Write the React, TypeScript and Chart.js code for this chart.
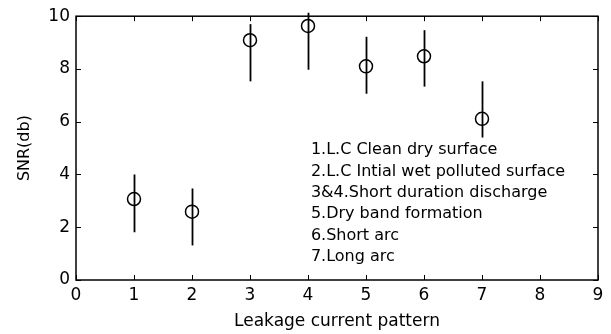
import React, { useEffect, useRef } from "react";
import { Chart, registerables } from "chart.js";

Chart.register(...registerables);

const patterns = [1, 2, 3, 4, 5, 6, 7];
const snrMean = [3.07, 2.59, 9.09, 9.63, 8.1, 8.48, 6.11];
const snrHigh = [4.0, 3.47, 9.7, 10.13, 9.22, 9.47, 7.53];
const snrLow = [1.81, 1.31, 7.53, 7.97, 7.06, 7.33, 5.4];
const xTicks = [0, 1, 2, 3, 4, 5, 6, 7, 8, 9];
const yTicks = [0, 2, 4, 6, 8, 10];
const notes = [
  "1.L.C Clean dry surface",
  "2.L.C Intial wet polluted surface",
  "3&4.Short duration discharge",
  "5.Dry band formation",
  "6.Short arc",
  "7.Long arc",
];

const FONT = "'DejaVu Sans', sans-serif";

const decor = {
  id: "decor",
  beforeDatasetsDraw(chart: any) {
    const { ctx, scales } = chart;
    const x = scales.x;
    const y = scales.y;
    ctx.save();
    ctx.strokeStyle = "#000";
    ctx.lineWidth = 1.8;
    patterns.forEach((p, i) => {
      const px = Math.round(x.getPixelForValue(p)) + 0.5;
      ctx.beginPath();
      ctx.moveTo(px, y.getPixelForValue(snrLow[i]));
      ctx.lineTo(px, y.getPixelForValue(snrHigh[i]));
      ctx.stroke();
    });
    ctx.restore();
  },
  afterDraw(chart: any) {
    const { ctx, chartArea: a, scales } = chart;
    const x = scales.x;
    const y = scales.y;
    ctx.save();
    ctx.strokeStyle = "#000";
    ctx.lineWidth = 1.5;
    ctx.strokeRect(a.left, a.top, a.right - a.left, a.bottom - a.top);
    ctx.lineWidth = 1;
    const tl = 5;
    xTicks.forEach((v) => {
      const px = Math.round(x.getPixelForValue(v)) + 0.5;
      ctx.beginPath();
      ctx.moveTo(px, a.bottom);
      ctx.lineTo(px, a.bottom - tl);
      ctx.moveTo(px, a.top);
      ctx.lineTo(px, a.top + tl);
      ctx.stroke();
    });
    yTicks.forEach((v) => {
      const py = Math.round(y.getPixelForValue(v)) + 0.5;
      ctx.beginPath();
      ctx.moveTo(a.left, py);
      ctx.lineTo(a.left + tl, py);
      ctx.moveTo(a.right, py);
      ctx.lineTo(a.right - tl, py);
      ctx.stroke();
    });
    ctx.fillStyle = "#000";
    ctx.font = `16px ${FONT}`;
    ctx.textBaseline = "middle";
    ctx.textAlign = "left";
    const nx = x.getPixelForValue(4.05);
    notes.forEach((t, i) => {
      ctx.fillText(t, nx, y.getPixelForValue(4.92 - i * 0.81));
    });
    ctx.restore();
  },
};

export default function App() {
  const ref = useRef<HTMLCanvasElement>(null);
  useEffect(() => {
    document.body.style.margin = "0";
    const chart = new Chart(ref.current!, {
      type: "scatter",
      data: {
        datasets: [
          {
            data: patterns.map((p, i) => ({ x: p, y: snrMean[i] })),
            pointStyle: "circle",
            pointRadius: 6.5,
            pointBorderWidth: 1.5,
            pointBorderColor: "#000",
            pointBackgroundColor: "rgba(0,0,0,0)",
            showLine: false,
          },
        ],
      },
      options: {
        animation: false,
        responsive: false,
        events: [],
        layout: { padding: { top: 15, right: 13, left: 0, bottom: 0 } },
        plugins: { legend: { display: false }, tooltip: { enabled: false } },
        scales: {
          x: {
            type: "linear",
            min: 0,
            max: 9,
            afterFit: (s: any) => {
              s.height = 54;
            },
            afterBuildTicks: (s: any) => {
              s.ticks = xTicks.map((v) => ({ value: v }));
            },
            grid: { display: false, drawTicks: false },
            border: { display: false },
            ticks: {
              color: "#000",
              font: { family: FONT, size: 17 },
              padding: 5,
              maxRotation: 0,
            },
            title: {
              display: true,
              text: "Leakage current pattern",
              color: "#000",
              font: { family: FONT, size: 17 },
              padding: { top: 2, bottom: 2 },
            },
          },
          y: {
            type: "linear",
            min: 0,
            max: 10,
            afterFit: (s: any) => {
              s.width = 76;
            },
            afterBuildTicks: (s: any) => {
              s.ticks = yTicks.map((v) => ({ value: v }));
            },
            grid: { display: false, drawTicks: false },
            border: { display: false },
            ticks: {
              color: "#000",
              font: { family: FONT, size: 17 },
              padding: 6,
            },
            title: {
              display: true,
              text: "SNR(db)",
              color: "#000",
              font: { family: FONT, size: 16 },
              padding: { top: 15, bottom: 0 },
            },
          },
        },
      },
      plugins: [decor],
    });
    return () => chart.destroy();
  }, []);
  return (
    <div style={{ width: 611, height: 334, background: "#fff" }}>
      <canvas ref={ref} width={611} height={334} />
    </div>
  );
}
